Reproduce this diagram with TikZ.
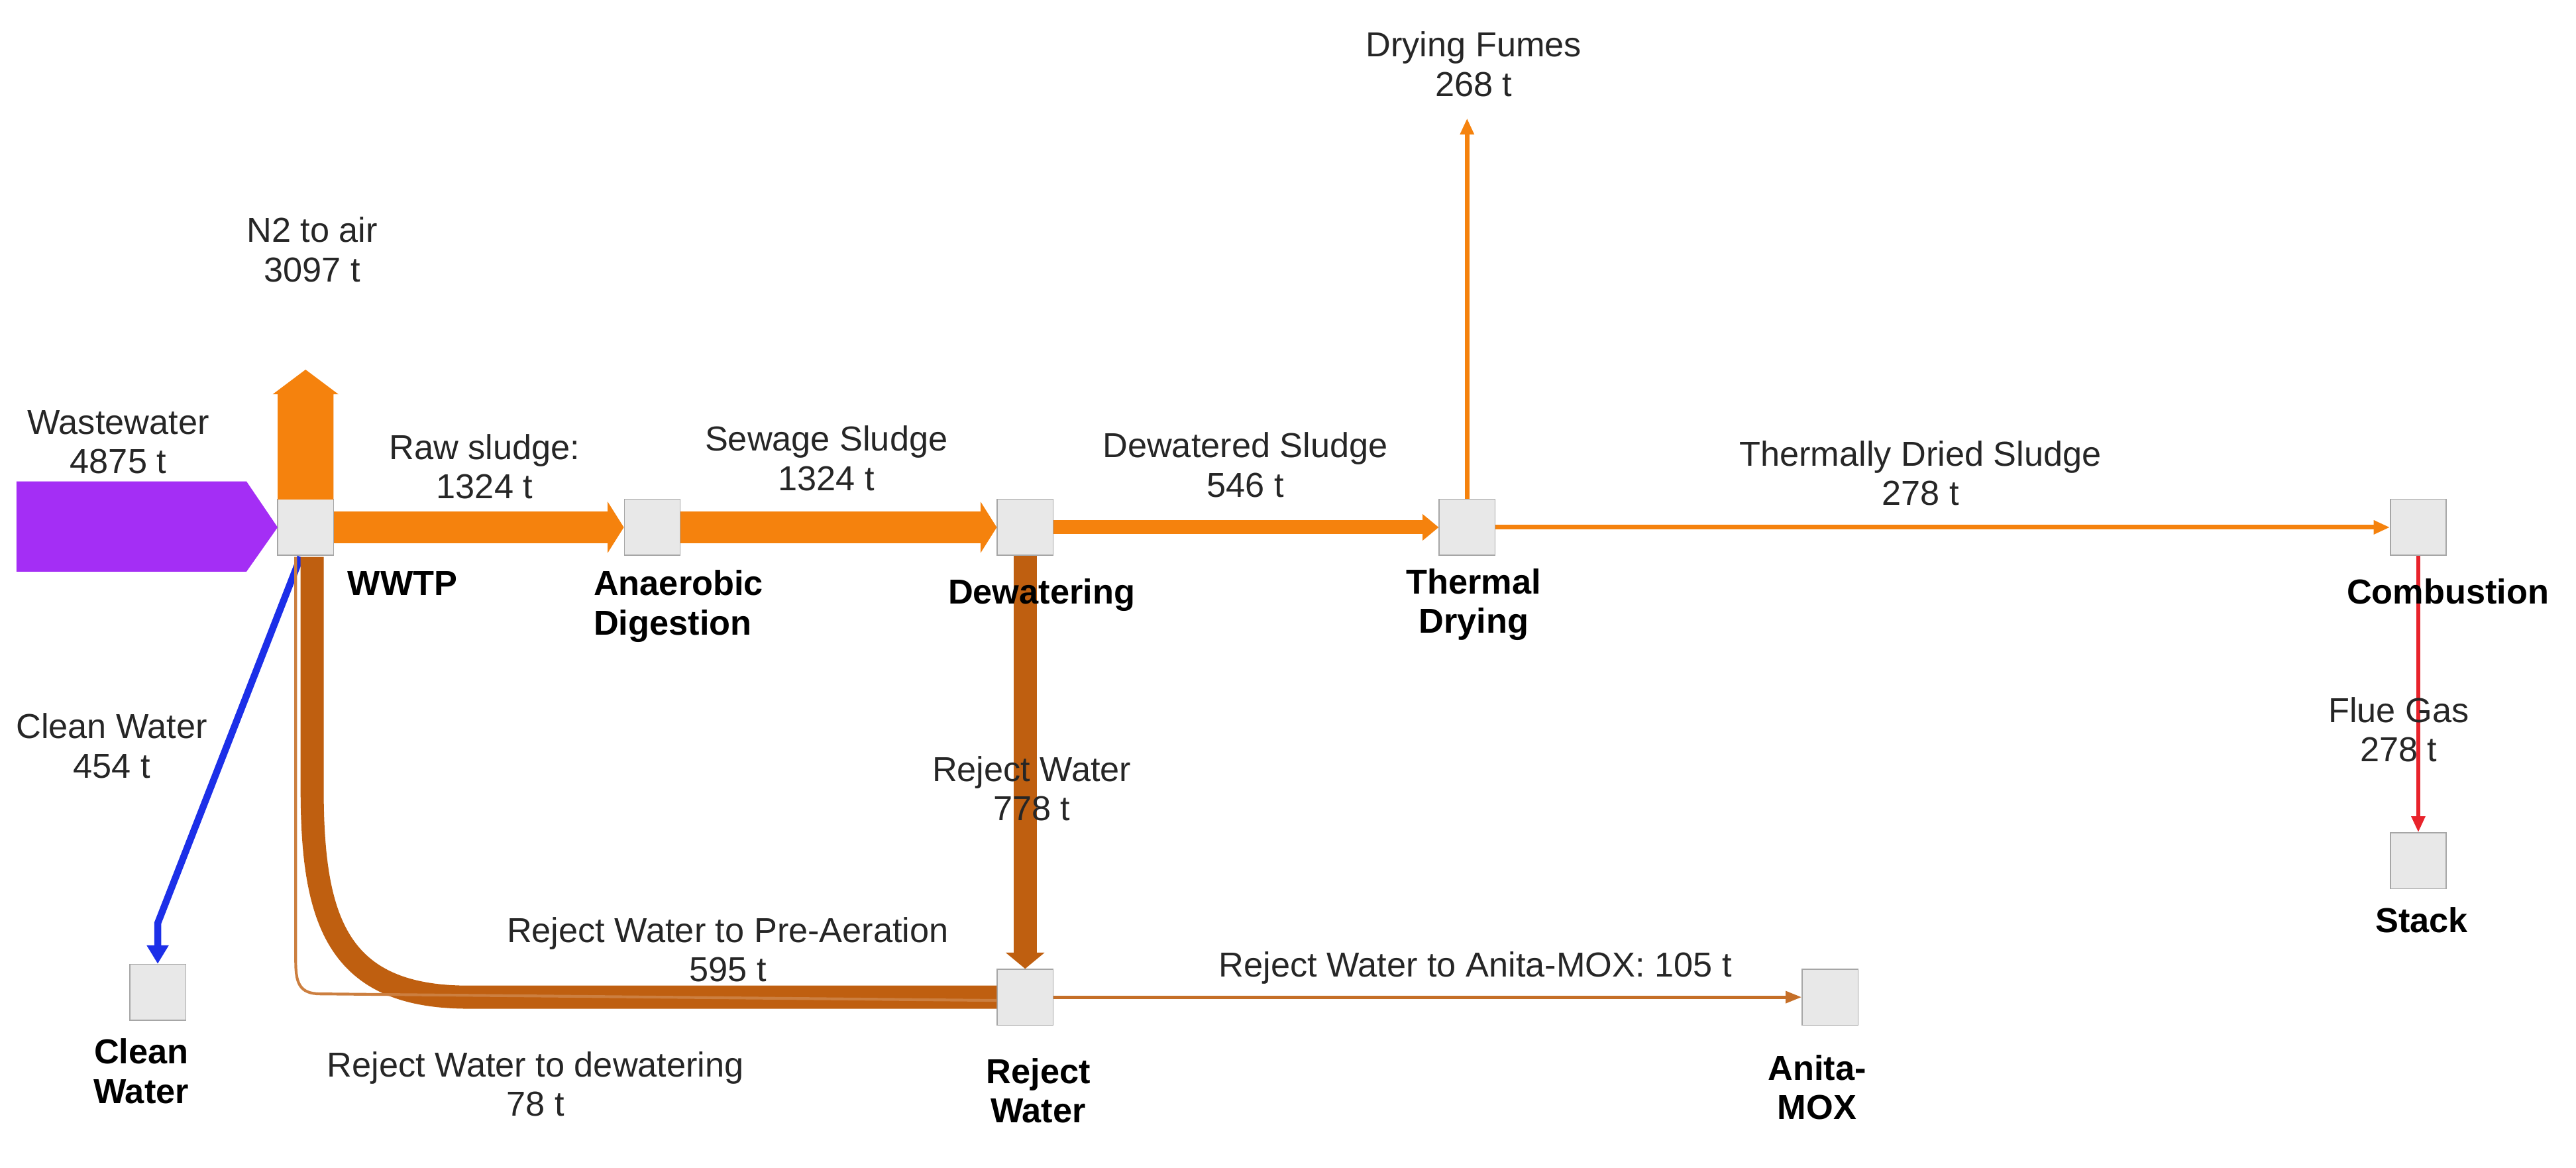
\documentclass[tikz,border=0pt]{standalone}
\usepackage{fontspec}
\setmainfont{Liberation Sans}
\usetikzlibrary{arrows.meta}
\definecolor{orng}{HTML}{F5820D}
\definecolor{purp}{HTML}{A42EF5}
\definecolor{blu}{HTML}{1C2FE8}
\definecolor{brn}{HTML}{BF5F10}
\definecolor{rd}{HTML}{E8232B}
\begin{document}
\begin{tikzpicture}[x=0.025cm,y=-0.025cm,
 box/.style={draw=gray!70,fill=gray!18,minimum size=0.85cm,inner sep=0pt},
 lbl/.style={font=\fontsize{15}{17}\selectfont,align=center,text=black!85},
 nl/.style={font=\fontsize{15}{17}\selectfont\bfseries,align=center},
 flow/.style={-{Triangle[length=7pt,width=1.35*#1+3pt]},line width=#1},
]
\useasboundingbox (0,0) rectangle (1568,711);
\node[box] (wwtp) at (186,321) {};
\node[box] (ad) at (397,321) {};
\node[box] (dw) at (624,321) {};
\node[box] (td) at (893,321) {};
\node[box] (cb) at (1472,321) {};
\node[box] (st) at (1472,524) {};
\node[box] (cw) at (96,604) {};
\node[box] (rw) at (624,607) {};
\node[box] (am) at (1114,607) {};
\coordinate (df) at (893,72);
% flows
\fill[purp] (10,293) -- (150,293) -- (169,321) -- (150,348) -- (10,348) -- cycle;
\fill[orng] (169,304) -- (169,240) -- (166,240) -- (186,225) -- (206,240) -- (203,240) -- (203,304) -- cycle;
\draw[orng,flow=14pt] (wwtp.east) -- (ad.west);
\draw[orng,flow=14pt] (ad.east) -- (dw.west);
\draw[orng,flow=6pt] (dw.east) -- (td.west);
\draw[orng,flow=2pt] (td.east) -- (cb.west);
\draw[orng,flow=2pt] (td.north) -- (df);
\draw[rd,flow=2pt] (cb.south) -- (st.north);
\draw[brn,flow=10pt] (dw.south) -- (rw.north);
\draw[blu,line width=3pt,-{Triangle[length=8pt,width=9pt]}] (183,339) -- (96,562) -- (cw.north);
\draw[brn,line width=10pt] (rw.west) -- (285,607) .. controls (205,607) and (190,560) .. (190,480) -- (190,339);
\draw[brn!80,line width=1.2pt] ([yshift=-0.05cm]rw.west) -- (195,605) .. controls (182,605) and (180,598) .. (180,585) -- (180,339);
\draw[brn!90,flow=1.5pt] (rw.east) -- (am.west);
% labels
\node[lbl] at (72,269) {Wastewater\\4875 t};
\node[lbl] at (190,152) {N2 to air\\3097 t};
\node[lbl] at (295,284) {Raw sludge:\\1324 t};
\node[lbl] at (503,279) {Sewage Sludge\\1324 t};
\node[lbl] at (758,283) {Dewatered Sludge\\546 t};
\node[lbl] at (1169,288) {Thermally Dried Sludge\\278 t};
\node[lbl] at (897,39) {Drying Fumes\\268 t};
\node[lbl] at (1460,444) {Flue Gas\\278 t};
\node[lbl] at (628,480) {Reject Water\\778 t};
\node[lbl] at (68,454) {Clean Water\\454 t};
\node[lbl] at (443,578) {Reject Water to Pre-Aeration\\595 t};
\node[lbl] at (326,660) {Reject Water to dewatering\\78 t};
\node[lbl] at (898,589) {Reject Water to Anita-MOX: 105 t};
\node[nl] at (245,355) {WWTP};
\node[nl,align=left] at (413,369) {Anaerobic\\Digestion};
\node[nl] at (634,362) {Dewatering};
\node[nl] at (897,368) {Thermal\\Drying};
\node[nl] at (1490,360) {Combustion};
\node[nl] at (1474,560) {Stack};
\node[nl] at (86,652) {Clean\\Water};
\node[nl] at (632,664) {Reject\\Water};
\node[nl] at (1106,662) {Anita-\\MOX};
\end{tikzpicture}
\end{document}
